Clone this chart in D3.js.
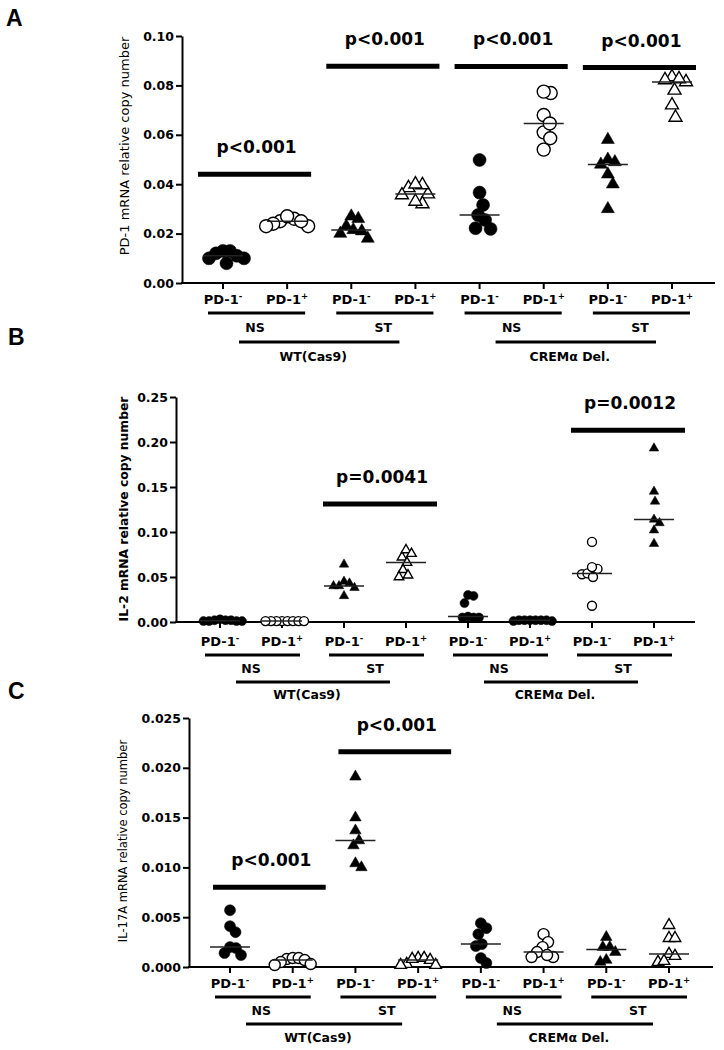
<!DOCTYPE html>
<html>
<head>
<meta charset="utf-8">
<script src="https://cdn.jsdelivr.net/npm/d3@7"></script>
<style>
body { margin: 0; background: #fff; }
svg { display: block; }
text { font-family: "DejaVu Sans", sans-serif; fill: #000; }
</style>
</head>
<body>
<div id="chart-area"></div>
<script>
/*
*   PD-1 / IL-2 / IL-17A copy numbers, PD-1- vs PD-1+ cells
*/

// categories along the x axis
var cellSign = ["-", "+", "-", "+", "-", "+", "-", "+"];
var stimulation = ["NS", "ST", "NS", "ST"];
var genotype = ["WT(Cas9)", "CREMα Del."];

// A : PD-1 mRNA
var pd1Values = [
	[0.012, 0.010, 0.013, 0.011, 0.013, 0.008, 0.010],
	[0.025, 0.023, 0.026, 0.024, 0.027, 0.023, 0.025],
	[0.023, 0.018, 0.0215, 0.026, 0.020, 0.027, 0.021],
	[0.0385, 0.036, 0.0397, 0.040, 0.032, 0.033, 0.0356],
	[0.0316, 0.0219, 0.0498, 0.0366, 0.0255, 0.0275, 0.0222],
	[0.0769, 0.0775, 0.068, 0.061, 0.0646, 0.0586, 0.054],
	[0.058, 0.050, 0.048, 0.049, 0.044, 0.040, 0.030],
	[0.0814, 0.0834, 0.0822, 0.0826, 0.078, 0.072, 0.067]
];
var pd1Ticks = [0, 0.02, 0.04, 0.06, 0.08, 0.10];
var pd1Tests = [
	{ a: 0, b: 1, y: 0.044, p: "p<0.001" },
	{ a: 2, b: 3, y: 0.0878, p: "p<0.001" },
	{ a: 4, b: 5, y: 0.0877, p: "p<0.001" },
	{ a: 6, b: 7, y: 0.0872, p: "p<0.001" }
];

// B : IL-2 mRNA
var il2Values = [
	[0.002, 0.001, 0.003, 0.002, 0.001, 0.002, 0.001, 0.001],
	[0.001, 0.001, 0.001, 0.001, 0.001, 0.001, 0.001, 0.001],
	[0.064, 0.045, 0.040, 0.038, 0.040, 0.043, 0.029],
	[0.072, 0.080, 0.076, 0.066, 0.058, 0.050, 0.052],
	[0.021, 0.030, 0.029, 0.005, 0.006, 0.005, 0.005],
	[0.002, 0.002, 0.001, 0.002, 0.002, 0.001, 0.002, 0.002],
	[0.089, 0.059, 0.053, 0.054, 0.061, 0.050, 0.018],
	[0.193, 0.145, 0.134, 0.110, 0.114, 0.102, 0.087]
];
var il2Ticks = [0, 0.05, 0.10, 0.15, 0.20, 0.25];
var il2Tests = [
	{ a: 2, b: 3, y: 0.131, p: "p=0.0041" },
	{ a: 6, b: 7, y: 0.213, p: "p=0.0012" }
];

// C : IL-17A mRNA
var il17aValues = [
	[0.0057, 0.0041, 0.0035, 0.0020, 0.0019, 0.0012, 0.0014],
	[0.0008, 0.0009, 0.0009, 0.0007, 0.0003, 0.0005, 0.0002],
	[0.0191, 0.0150, 0.0137, 0.0127, 0.0122, 0.0100, 0.0104],
	[0.0003, 0.0009, 0.0009, 0.0008, 0.0007, 0.0002, 0.0002],
	[0.0044, 0.0033, 0.0021, 0.0004, 0.0039, 0.0023, 0.0009],
	[0.0033, 0.0025, 0.0020, 0.0015, 0.0010, 0.0010, 0.0012],
	[0.0030, 0.0020, 0.0020, 0.0015, 0.0005, 0.0007],
	[0.0042, 0.0029, 0.0029, 0.0013, 0.0011, 0.0005, 0.0006]
];
var il17aTicks = [0, 0.005, 0.010, 0.015, 0.020, 0.025];
var il17aTests = [
	{ a: 0, b: 1, y: 0.0080, p: "p<0.001" },
	{ a: 2, b: 3, y: 0.0216, p: "p<0.001" }
];

// marker per group : c = circle, t = triangle ; filled or open
var shapesAC = ["c", "c", "t", "t", "c", "c", "t", "t"];
var filledAC = [true, false, true, false, true, false, true, false];
var shapesB = ["c", "c", "t", "t", "c", "c", "c", "t"];
var filledB = [true, false, true, false, true, true, false, true];

var svg = d3.select("#chart-area")
	.append("svg")
	.attr("width", 724)
	.attr("height", 1050);

// beeswarm with an elliptic gap: dots may overlap sideways (like Prism)
function swarm(vals, y, hx, hy) {
	var pts = vals.map(function(v) { return { v: v, y: y(v), dx: 0 }; });
	var order = pts.slice().sort(function(a, b) { return a.y - b.y; });
	var placed = [];
	order.forEach(function(p) {
		for (var k = 0; k < 400; k++) {
			var off = (k % 2 ? 1 : -1) * Math.ceil(k / 2) * 0.5;
			var ok = placed.every(function(q) {
				var dx = (q.dx - off) / hx, dy = (q.y - p.y) / hy;
				return dx * dx + dy * dy >= 1;
			});
			if (ok) { p.dx = off; break; }
		}
		placed.push(p);
	});
	return pts;
}

function drawPanel(cfg, values, shapes, filled, tests, ticks, fmt) {
	var g = svg.append("g");

	var y = d3.scaleLinear()
		.domain([0, ticks[ticks.length - 1]])
		.range([cfg.yBottom, cfg.yTop]);
	var x = d3.scalePoint()
		.domain(d3.range(8))
		.range([cfg.xFirst, cfg.xLast]);

	// panel letter
	g.append("text")
		.attr("x", cfg.letterX)
		.attr("y", cfg.letterY)
		.style("font-family", "'Liberation Sans', Arial, sans-serif")
		.attr("font-size", "23px")
		.attr("font-weight", "bold")
		.text(cfg.letter);

	// y axis
	var yAxis = g.append("g")
		.attr("transform", "translate(" + cfg.x0 + ",0)")
		.call(d3.axisLeft(y).tickValues(ticks).tickFormat(d3.format(fmt))
			.tickSize(6).tickSizeOuter(0).tickPadding(2));
	yAxis.select(".domain").attr("stroke", "#000").attr("stroke-width", 2);
	yAxis.selectAll(".tick line").attr("stroke", "#000").attr("stroke-width", 2);
	yAxis.selectAll(".tick text")
		.attr("font-family", "DejaVu Sans")
		.attr("font-size", "12.5px")
		.attr("font-weight", "bold")
		.attr("fill", "#000");

	g.append("text")
		.attr("transform", "translate(" + cfg.labelX + "," + cfg.labelY + ") rotate(-90)")
		.attr("text-anchor", "middle")
		.attr("font-size", cfg.labelSize)
		.attr("font-weight", cfg.labelWeight)
		.text(cfg.yLabel);

	// x axis
	g.append("line")
		.attr("x1", cfg.x0 - 1).attr("x2", cfg.xEnd)
		.attr("y1", cfg.yBottom).attr("y2", cfg.yBottom)
		.attr("stroke", "#000").attr("stroke-width", 2);

	var rows = cfg.rows;
	x.domain().forEach(function(i) {
		g.append("line")
			.attr("x1", x(i)).attr("x2", x(i))
			.attr("y1", cfg.yBottom).attr("y2", cfg.yBottom + 6)
			.attr("stroke", "#000").attr("stroke-width", 2);
		var t = g.append("text")
			.attr("x", x(i))
			.attr("y", cfg.yBottom + rows[0])
			.attr("text-anchor", "middle")
			.attr("font-size", "13px")
			.attr("font-weight", "bold");
		t.append("tspan").text("PD-1");
		t.append("tspan").attr("font-size", "8.5px").attr("dy", -5).text(cellSign[i]);
	});

	// NS / ST brackets
	stimulation.forEach(function(s, j) {
		var a = x(2 * j), b = x(2 * j + 1);
		g.append("line")
			.attr("x1", a - 15).attr("x2", b + 18)
			.attr("y1", cfg.yBottom + rows[1]).attr("y2", cfg.yBottom + rows[1])
			.attr("stroke", "#000").attr("stroke-width", 3);
		g.append("text")
			.attr("x", (a + b) / 2)
			.attr("y", cfg.yBottom + rows[2])
			.attr("text-anchor", "middle")
			.attr("font-size", "12.5px")
			.attr("font-weight", "bold")
			.text(s);
	});

	// genotype brackets
	genotype.forEach(function(s, j) {
		var a = x(4 * j), b = x(4 * j + 3);
		g.append("line")
			.attr("x1", a + 16).attr("x2", b - 16)
			.attr("y1", cfg.yBottom + rows[3]).attr("y2", cfg.yBottom + rows[3])
			.attr("stroke", "#000").attr("stroke-width", 3);
		g.append("text")
			.attr("x", (a + b) / 2 - 6)
			.attr("y", cfg.yBottom + rows[4])
			.attr("text-anchor", "middle")
			.attr("font-size", "12.5px")
			.attr("font-weight", "bold")
			.text(s);
	});

	// significance bars
	tests.forEach(function(d) {
		var x1 = x(d.a) - cfg.padL, x2 = x(d.b) + cfg.padR;
		g.append("line")
			.attr("x1", x1).attr("x2", x2)
			.attr("y1", y(d.y)).attr("y2", y(d.y))
			.attr("stroke", "#000").attr("stroke-width", 5);
		g.append("text")
			.attr("x", (x1 + x2) / 2 + 2)
			.attr("y", y(d.y) - 21)
			.attr("text-anchor", "middle")
			.attr("font-size", "17px")
			.attr("font-weight", "bold")
			.text(d.p);
	});

	// dots
	values.forEach(function(vals, i) {
		var pts = swarm(vals, y, cfg.hx, cfg.hy);
		var tri = shapes[i] === "t";
		var sym = d3.symbol()
			.type(tri ? d3.symbolTriangle : d3.symbolCircle)
			.size(tri ? cfg.side * cfg.side * Math.sqrt(3) / 4 : Math.PI * cfg.r * cfg.r);

		g.selectAll(null)
			.data(pts)
			.enter()
			.append("path")
			.attr("d", sym)
			.attr("transform", function(d) { return "translate(" + (x(i) + d.dx) + "," + d.y + ")"; })
			.attr("fill", filled[i] ? "#000" : "#fff")
			.attr("stroke", "#000")
			.attr("stroke-width", filled[i] ? 0.5 : 1.4);

		// median
		var m = d3.median(vals);
		g.append("line")
			.attr("x1", x(i) - 20).attr("x2", x(i) + 20)
			.attr("y1", y(m)).attr("y2", y(m))
			.attr("stroke", "#222").attr("stroke-width", 1.5);
	});
}

drawPanel({
	letter: "A", letterX: 6, letterY: 26,
	yTop: 36, yBottom: 283, x0: 182, xEnd: 715, xFirst: 223, xLast: 672,
	yLabel: "PD-1 mRNA relative copy number", labelX: 129, labelY: 146,
	labelSize: "13px", labelWeight: "normal",
	rows: [21, 30, 49, 59, 78],
	padL: 25, padR: 24, r: 6.5, side: 13, hx: 7, hy: 14
}, pd1Values, shapesAC, filledAC, pd1Tests, pd1Ticks, ".2f");

drawPanel({
	letter: "B", letterX: 8, letterY: 345,
	yTop: 397, yBottom: 622, x0: 176, xEnd: 695, xFirst: 220, xLast: 654,
	yLabel: "IL-2 mRNA relative copy number", labelX: 128, labelY: 509,
	labelSize: "12.3px", labelWeight: "bold",
	rows: [24, 33, 51, 60, 77],
	padL: 21, padR: 31, r: 4.5, side: 9.5, hx: 5.5, hy: 10
}, il2Values, shapesB, filledB, il2Tests, il2Ticks, ".2f");

drawPanel({
	letter: "C", letterX: 8, letterY: 699,
	yTop: 718, yBottom: 967, x0: 189, xEnd: 713, xFirst: 230, xLast: 669,
	yLabel: "IL-17A mRNA relative copy number", labelX: 127, labelY: 841,
	labelSize: "11.5px", labelWeight: "normal",
	rows: [21, 30, 48, 57, 75],
	padL: 17, padR: 33, r: 5.5, side: 11.5, hx: 6, hy: 12
}, il17aValues, shapesAC, filledAC, il17aTests, il17aTicks, ".3f");
</script>
</body>
</html>
